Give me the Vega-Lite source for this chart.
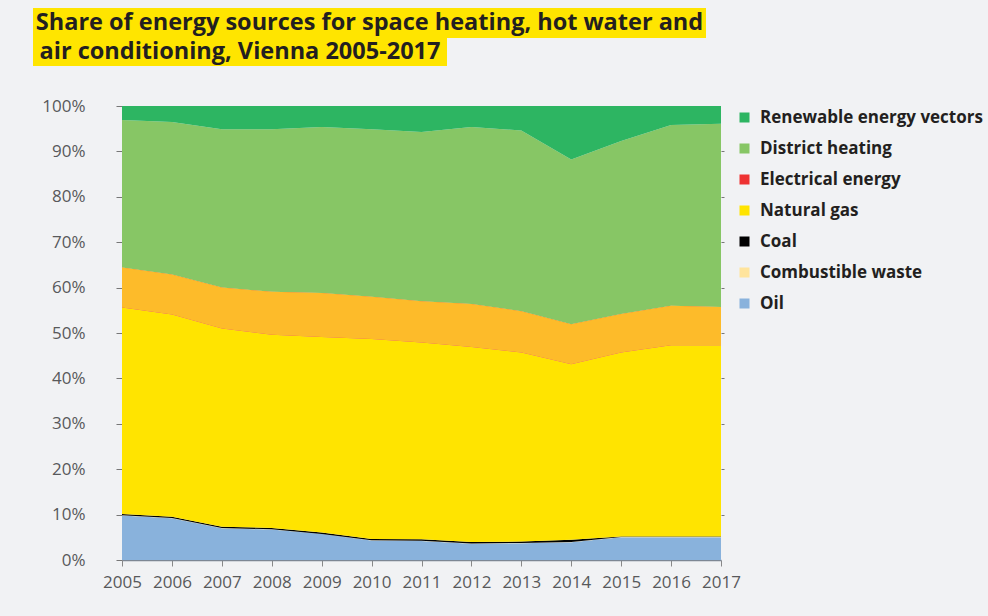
{
  "$schema": "https://vega.github.io/schema/vega-lite/v6.json",
  "background": "#f1f2f4",
  "padding": {"left": 33, "top": 8, "right": 6, "bottom": 26},
  "config": {"view": {"stroke": null}, "font": "Open Sans"},
  "resolve": {"legend": {"color": "independent"}},
  "datasets": {
    "titles": [
      {"line": 1, "t": "Share of energy sources for space heating, hot water and"},
      {"line": 2, "t": "air conditioning, Vienna 2005-2017"}
    ],
    "empty": [],
    "energy": [
      {"year": 2005, "source": "Oil", "ord": 1, "value": 9.8},
      {"year": 2005, "source": "Combustible waste", "ord": 2, "value": 0.05},
      {"year": 2005, "source": "Coal", "ord": 3, "value": 0.3},
      {"year": 2005, "source": "Natural gas", "ord": 4, "value": 45.45},
      {"year": 2005, "source": "Electrical energy", "ord": 5, "value": 8.8},
      {"year": 2005, "source": "District heating", "ord": 6, "value": 32.5},
      {"year": 2005, "source": "Renewable energy vectors", "ord": 7, "value": 3.1},
      {"year": 2006, "source": "Oil", "ord": 1, "value": 9.2},
      {"year": 2006, "source": "Combustible waste", "ord": 2, "value": 0.05},
      {"year": 2006, "source": "Coal", "ord": 3, "value": 0.3},
      {"year": 2006, "source": "Natural gas", "ord": 4, "value": 44.55},
      {"year": 2006, "source": "Electrical energy", "ord": 5, "value": 8.8},
      {"year": 2006, "source": "District heating", "ord": 6, "value": 33.6},
      {"year": 2006, "source": "Renewable energy vectors", "ord": 7, "value": 3.5},
      {"year": 2007, "source": "Oil", "ord": 1, "value": 7.0},
      {"year": 2007, "source": "Combustible waste", "ord": 2, "value": 0.05},
      {"year": 2007, "source": "Coal", "ord": 3, "value": 0.3},
      {"year": 2007, "source": "Natural gas", "ord": 4, "value": 43.65},
      {"year": 2007, "source": "Electrical energy", "ord": 5, "value": 9.0},
      {"year": 2007, "source": "District heating", "ord": 6, "value": 34.9},
      {"year": 2007, "source": "Renewable energy vectors", "ord": 7, "value": 5.1},
      {"year": 2008, "source": "Oil", "ord": 1, "value": 6.7},
      {"year": 2008, "source": "Combustible waste", "ord": 2, "value": 0.05},
      {"year": 2008, "source": "Coal", "ord": 3, "value": 0.3},
      {"year": 2008, "source": "Natural gas", "ord": 4, "value": 42.55},
      {"year": 2008, "source": "Electrical energy", "ord": 5, "value": 9.5},
      {"year": 2008, "source": "District heating", "ord": 6, "value": 35.8},
      {"year": 2008, "source": "Renewable energy vectors", "ord": 7, "value": 5.1},
      {"year": 2009, "source": "Oil", "ord": 1, "value": 5.7},
      {"year": 2009, "source": "Combustible waste", "ord": 2, "value": 0.05},
      {"year": 2009, "source": "Coal", "ord": 3, "value": 0.3},
      {"year": 2009, "source": "Natural gas", "ord": 4, "value": 43.05},
      {"year": 2009, "source": "Electrical energy", "ord": 5, "value": 9.7},
      {"year": 2009, "source": "District heating", "ord": 6, "value": 36.6},
      {"year": 2009, "source": "Renewable energy vectors", "ord": 7, "value": 4.6},
      {"year": 2010, "source": "Oil", "ord": 1, "value": 4.3},
      {"year": 2010, "source": "Combustible waste", "ord": 2, "value": 0.05},
      {"year": 2010, "source": "Coal", "ord": 3, "value": 0.3},
      {"year": 2010, "source": "Natural gas", "ord": 4, "value": 44.05},
      {"year": 2010, "source": "Electrical energy", "ord": 5, "value": 9.3},
      {"year": 2010, "source": "District heating", "ord": 6, "value": 36.9},
      {"year": 2010, "source": "Renewable energy vectors", "ord": 7, "value": 5.1},
      {"year": 2011, "source": "Oil", "ord": 1, "value": 4.2},
      {"year": 2011, "source": "Combustible waste", "ord": 2, "value": 0.05},
      {"year": 2011, "source": "Coal", "ord": 3, "value": 0.3},
      {"year": 2011, "source": "Natural gas", "ord": 4, "value": 43.35},
      {"year": 2011, "source": "Electrical energy", "ord": 5, "value": 9.1},
      {"year": 2011, "source": "District heating", "ord": 6, "value": 37.3},
      {"year": 2011, "source": "Renewable energy vectors", "ord": 7, "value": 5.7},
      {"year": 2012, "source": "Oil", "ord": 1, "value": 3.6},
      {"year": 2012, "source": "Combustible waste", "ord": 2, "value": 0.05},
      {"year": 2012, "source": "Coal", "ord": 3, "value": 0.3},
      {"year": 2012, "source": "Natural gas", "ord": 4, "value": 42.95},
      {"year": 2012, "source": "Electrical energy", "ord": 5, "value": 9.5},
      {"year": 2012, "source": "District heating", "ord": 6, "value": 39.0},
      {"year": 2012, "source": "Renewable energy vectors", "ord": 7, "value": 4.6},
      {"year": 2013, "source": "Oil", "ord": 1, "value": 3.7},
      {"year": 2013, "source": "Combustible waste", "ord": 2, "value": 0.05},
      {"year": 2013, "source": "Coal", "ord": 3, "value": 0.3},
      {"year": 2013, "source": "Natural gas", "ord": 4, "value": 41.65},
      {"year": 2013, "source": "Electrical energy", "ord": 5, "value": 9.1},
      {"year": 2013, "source": "District heating", "ord": 6, "value": 39.8},
      {"year": 2013, "source": "Renewable energy vectors", "ord": 7, "value": 5.4},
      {"year": 2014, "source": "Oil", "ord": 1, "value": 3.9},
      {"year": 2014, "source": "Combustible waste", "ord": 2, "value": 0.05},
      {"year": 2014, "source": "Coal", "ord": 3, "value": 0.5},
      {"year": 2014, "source": "Natural gas", "ord": 4, "value": 38.65},
      {"year": 2014, "source": "Electrical energy", "ord": 5, "value": 8.8},
      {"year": 2014, "source": "District heating", "ord": 6, "value": 36.3},
      {"year": 2014, "source": "Renewable energy vectors", "ord": 7, "value": 11.8},
      {"year": 2015, "source": "Oil", "ord": 1, "value": 5.0},
      {"year": 2015, "source": "Combustible waste", "ord": 2, "value": 0.05},
      {"year": 2015, "source": "Coal", "ord": 3, "value": 0.1},
      {"year": 2015, "source": "Natural gas", "ord": 4, "value": 40.55},
      {"year": 2015, "source": "Electrical energy", "ord": 5, "value": 8.5},
      {"year": 2015, "source": "District heating", "ord": 6, "value": 38.1},
      {"year": 2015, "source": "Renewable energy vectors", "ord": 7, "value": 7.7},
      {"year": 2016, "source": "Oil", "ord": 1, "value": 5.0},
      {"year": 2016, "source": "Combustible waste", "ord": 2, "value": 0.05},
      {"year": 2016, "source": "Coal", "ord": 3, "value": 0.1},
      {"year": 2016, "source": "Natural gas", "ord": 4, "value": 42.15},
      {"year": 2016, "source": "Electrical energy", "ord": 5, "value": 8.7},
      {"year": 2016, "source": "District heating", "ord": 6, "value": 39.8},
      {"year": 2016, "source": "Renewable energy vectors", "ord": 7, "value": 4.2},
      {"year": 2017, "source": "Oil", "ord": 1, "value": 5.0},
      {"year": 2017, "source": "Combustible waste", "ord": 2, "value": 0.05},
      {"year": 2017, "source": "Coal", "ord": 3, "value": 0.1},
      {"year": 2017, "source": "Natural gas", "ord": 4, "value": 42.15},
      {"year": 2017, "source": "Electrical energy", "ord": 5, "value": 8.4},
      {"year": 2017, "source": "District heating", "ord": 6, "value": 40.4},
      {"year": 2017, "source": "Renewable energy vectors", "ord": 7, "value": 3.9}
    ]
  },
  "vconcat": [
    {
      "spacing": 0,
      "vconcat": [
        {
          "width": 673, "height": 30,
          "view": {"fill": "#ffe500", "stroke": null},
          "data": {"name": "titles"},
          "transform": [{"filter": "datum.line == 1"}],
          "mark": {"type": "text", "font": "Open Sans", "fontWeight": "bold", "fontSize": 23.5, "color": "#231f20"},
          "encoding": {"text": {"field": "t"}}
        },
        {
          "width": 414, "height": 28,
          "view": {"fill": "#ffe500", "stroke": null},
          "data": {"name": "titles"},
          "transform": [{"filter": "datum.line == 2"}],
          "mark": {"type": "text", "font": "Open Sans", "fontWeight": "bold", "fontSize": 23.5, "color": "#231f20"},
          "encoding": {"text": {"field": "t"}}
        }
      ]
    },
    {
      "resolve": {"legend": {"color": "independent"}},
      "spacing": 0,
      "hconcat": [
        {
          "width": 8, "height": 10,
          "view": {"fill": "#f1f2f4", "stroke": null},
          "data": {"name": "empty"},
          "mark": "point"
        },
        {
          "width": 599,
          "height": 454,
          "data": {"name": "energy"},
          "transform": [
            {"stack": "value", "groupby": ["year"], "sort": [{"field": "ord", "order": "ascending"}], "as": ["y0", "y1"]}
          ],
          "resolve": {"axis": {"y": "independent"}},
          "encoding": {
            "x": {
              "field": "year", "type": "quantitative",
              "scale": {"domain": [2005, 2017], "nice": false, "zero": false},
              "axis": {
                "title": null, "format": "d", "labelOverlap": false, "labelFlush": false,
                "values": [2005, 2006, 2007, 2008, 2009, 2010, 2011, 2012, 2013, 2014, 2015, 2016, 2017],
                "grid": false, "domainColor": "#7d8794", "domainWidth": 1.5, "tickColor": "#888888", "tickSize": 6,
                "labelFont": "Open Sans", "labelFontSize": 17, "labelColor": "#58595b", "labelPadding": 8
              }
            },
            "y2": {"field": "y1"}
          },
          "layer": [
            {
              "mark": {"type": "area", "interpolate": "linear"},
              "encoding": {
                "y": {
                  "field": "y0", "type": "quantitative",
                  "scale": {"domain": [0, 100], "nice": false},
                  "axis": {
                    "title": null,
                    "values": [0, 10, 20, 30, 40, 50, 60, 70, 80, 90, 100],
                    "labelExpr": "datum.value + '%'", "labelOverlap": false,
                    "grid": false, "domain": false, "tickColor": "#777777", "tickSize": 6,
                    "labelFont": "Open Sans", "labelFontSize": 17, "labelColor": "#58595b", "labelPadding": 31
                  }
                },
                "color": {
                  "field": "source", "type": "nominal",
                  "scale": {
                    "domain": ["Renewable energy vectors", "District heating", "Electrical energy", "Natural gas", "Coal", "Combustible waste", "Oil"],
                    "range": ["#2db562", "#87c665", "#ee3232", "#ffe400", "#000000", "#ffe49c", "#89b2dc"]
                  },
                  "legend": {
                    "title": null, "orient": "right", "offset": 8, "padding": 3,
                    "symbolType": "square", "symbolSize": 100, "symbolStrokeWidth": 0,
                    "labelFont": "Open Sans", "labelFontWeight": "bold", "labelFontSize": 17, "labelColor": "#231f20",
                    "rowPadding": 13, "labelOffset": 7, "labelLimit": 300
                  }
                }
              }
            },
            {
              "transform": [{"filter": "datum.source == 'Electrical energy'"}],
              "mark": {"type": "area", "interpolate": "linear", "color": "#fdbb2a"},
              "encoding": {
                "y": {
                  "field": "y0", "type": "quantitative",
                  "scale": {"domain": [0, 100], "nice": false},
                  "axis": {
                    "orient": "right", "title": null, "labels": false, "domain": false, "grid": false,
                    "values": [10, 20, 30, 40, 50, 60, 70, 80, 90],
                    "tickColor": "#777777", "tickSize": 3
                  }
                }
              }
            }
          ]
        }
      ]
    }
  ],
  "spacing": 31
}
